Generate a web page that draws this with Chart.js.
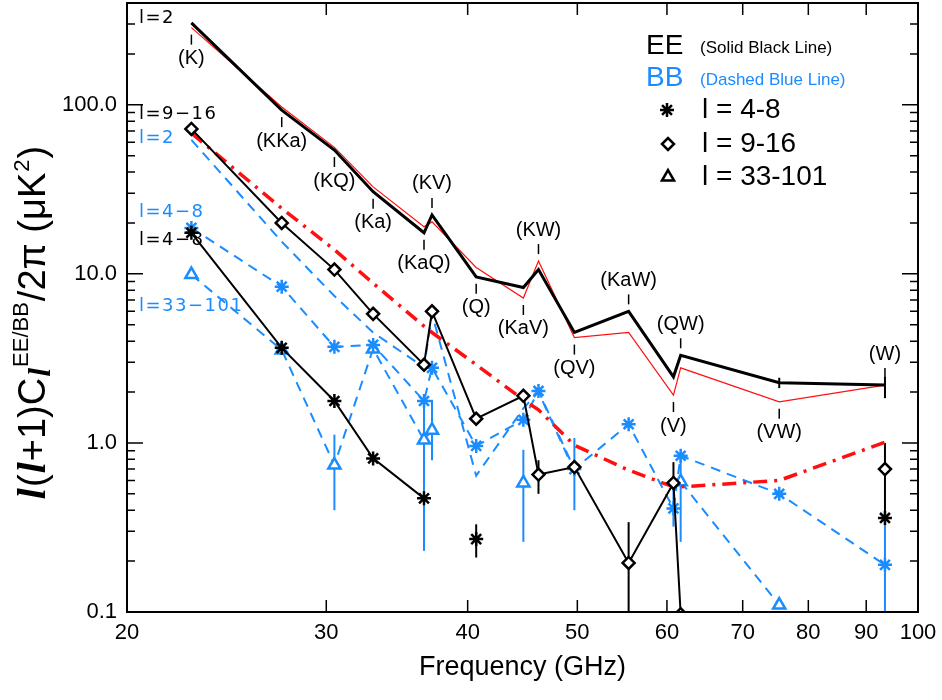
<!DOCTYPE html>
<html>
<head>
<meta charset="utf-8">
<script src="https://cdn.jsdelivr.net/npm/chart.js@4.4.0/dist/chart.umd.min.js"></script>
<style>
  body { margin: 0; background: #fff; }
</style>
</head>
<body>
<canvas id="chart" width="942" height="700"></canvas>
<script>
// band combinations and their effective frequencies (GHz)
const bands = ['K', 'KKa', 'KQ', 'Ka', 'KaQ', 'KV', 'Q', 'KaV', 'KW', 'QV', 'KaW', 'V', 'QW', 'VW', 'W'];
const freqs = [22.8, 27.4, 30.5, 33.0, 36.6, 37.2, 40.7, 44.8, 46.2, 49.7, 55.5, 60.8, 61.7, 75.4, 93.5];
const labelSide = ['below', 'below', 'below', 'below', 'below', 'above', 'below', 'below', 'above', 'below', 'above', 'below', 'above', 'below', 'above'];

// EE (solid)
const eeL2 = [305, 93, 54, 30.6, 17.5, 22.3, 9.6, 8.3, 10.6, 4.5, 6.0, 2.46, 3.3, 2.27, 2.2];
const eeModel = [286, 97, 56, 32.7, 19.0, 20.3, 10.9, 7.2, 11.9, 4.2, 4.5, 1.92, 2.78, 1.75, 2.2];
const ee916 = [72, 20, 10.6, 5.8, 2.9, 6.0, 1.39, 1.9, 0.65, 0.72, 0.195, 0.58, 0.097, null, 0.70];
const ee48 = [17.5, 3.65, 1.77, 0.81, 0.47, null, 0.27, null, null, null, null, null, null, null, 0.36];
// red dash-dot curve
const dustModel = [68, 24.4, 13.9, 8.8, 4.9, 4.5, 2.9, 1.8, 1.57, 0.97, 0.69, 0.55, 0.55, 0.60, 1.01];

// BB (dashed blue)
const bbL2 = [62, 15.5, 7.4, 4.5, 2.8, 5.8, 0.64, 1.6, 2.0, 0.68, null, null, null, null, null];
const bb48 = [18.7, 8.4, 3.7, 3.8, 1.77, 2.78, 0.96, 1.37, 2.03, 0.70, 1.29, 0.41, 0.84, 0.50, 0.19];
const bb33101 = [9.9, 3.55, 0.74, 3.6, 1.04, 1.19, null, 0.58, null, null, null, null, 0.59, 0.11, null];

// error bars: [band index, low, high]
const errBlack = [[6, 0.21, 0.33], [8, 0.50, 0.79], [10, 0.05, 0.34], [11, 0.55, 0.77], [14, 0.36, 1.0], [13, 2.11, 2.43], [14, 1.84, 2.46]];
const errBlue = [[2, 0.40, 1.12], [4, 0.23, 1.84], [5, 0.79, 1.8], [7, 0.26, 0.91], [9, 0.40, 1.07], [11, 0.32, 0.55], [12, 0.26, 0.87], [14, 0.05, 0.36]];

const xTicks = [20, 30, 40, 50, 60, 70, 80, 90, 100];
const yTicks = [0.1, 1, 10, 100];
const yTickLabels = ['0.1', '1.0', '10.0', '100.0'];

const FONT = "'Liberation Sans', Arial, sans-serif";
const BLUE = '#1a8cff';
const RED = '#ff1010';

function pts(arr) {
    return arr.map((v, i) => ({ x: freqs[i], y: v }));
}

// frame, ticks, labels, legend, error bars
const decor = {
    id: 'decor',
    beforeDatasetsDraw(chart) {
        const ctx = chart.ctx, xs = chart.scales.x, ys = chart.scales.y;
        ctx.save();
        ctx.beginPath();
        ctx.rect(chart.chartArea.left, chart.chartArea.top, chart.chartArea.right - chart.chartArea.left, chart.chartArea.bottom - chart.chartArea.top);
        ctx.clip();
        ctx.lineWidth = 2;
        [[errBlack, '#000'], [errBlue, BLUE]].forEach(([list, col]) => {
            ctx.strokeStyle = col;
            list.forEach(([i, lo, hi]) => {
                const px = xs.getPixelForValue(freqs[i]);
                ctx.beginPath();
                ctx.moveTo(px, ys.getPixelForValue(lo));
                ctx.lineTo(px, ys.getPixelForValue(hi));
                ctx.stroke();
            });
        });
        ctx.restore();
    },
    afterDraw(chart) {
        const ctx = chart.ctx, xs = chart.scales.x, ys = chart.scales.y;
        const a = chart.chartArea;
        ctx.save();

        // frame
        ctx.strokeStyle = '#000';
        ctx.lineWidth = 2;
        ctx.strokeRect(a.left, a.top, a.right - a.left, a.bottom - a.top);

        // y ticks (inward, both sides)
        ctx.lineWidth = 1.5;
        [0.1, 1, 10, 100].forEach(d => {
            for (let m = 1; m <= 9; m++) {
                const v = d * m;
                if (v < 0.1 || v > 400) continue;
                const py = ys.getPixelForValue(v);
                const len = m === 1 ? 16 : 8;
                ctx.beginPath();
                ctx.moveTo(a.left, py); ctx.lineTo(a.left + len, py);
                ctx.moveTo(a.right, py); ctx.lineTo(a.right - len, py);
                ctx.stroke();
            }
        });
        // x ticks
        xTicks.slice(1, -1).forEach(v => {
            const px = xs.getPixelForValue(v);
            ctx.beginPath();
            ctx.moveTo(px, a.bottom); ctx.lineTo(px, a.bottom - 12);
            ctx.moveTo(px, a.top); ctx.lineTo(px, a.top + 12);
            ctx.stroke();
        });

        // band labels on the EE l=2 line
        ctx.font = '20px ' + FONT;
        ctx.fillStyle = '#000';
        ctx.textAlign = 'center';
        ctx.textBaseline = 'middle';
        ctx.lineWidth = 1.5;
        bands.forEach((b, i) => {
            const px = xs.getPixelForValue(freqs[i]);
            const p1 = ys.getPixelForValue(eeL2[i]);
            const p2 = ys.getPixelForValue(eeModel[i]);
            let t0, t1, ty;
            if (labelSide[i] === 'below') {
                const base = Math.max(p1, p2);
                t0 = base + 7; t1 = base + 17; ty = base + 31;
            } else {
                const base = Math.min(p1, p2);
                t0 = base - 7; t1 = base - 17; ty = base - 31;
            }
            ctx.beginPath();
            ctx.moveTo(px, t0); ctx.lineTo(px, t1);
            ctx.stroke();
            ctx.fillText('(' + b + ')', px, ty);
        });

        // series labels at left
        ctx.textAlign = 'left';
        ctx.font = "18px 'DejaVu Sans', sans-serif";
        ctx.letterSpacing = '1.5px';
        [['l=2', '#000', 18], ['l=9\u221216', '#000', 114], ['l=2', BLUE, 138], ['l=4\u22128', BLUE, 212], ['l=4\u22128', '#000', 240], ['l=33\u2212101', BLUE, 306]]
            .forEach(([t, c, y]) => {
                ctx.fillStyle = c;
                ctx.fillText(t, 139, y);
            });
        ctx.letterSpacing = '0px';

        // legend
        ctx.font = '28px ' + FONT;
        ctx.fillStyle = '#000';
        ctx.fillText('EE', 646, 46);
        ctx.fillStyle = BLUE;
        ctx.fillText('BB', 646, 78);
        ctx.font = '17px ' + FONT;
        ctx.fillStyle = '#000';
        ctx.fillText('(Solid Black Line)', 700, 48);
        ctx.fillStyle = BLUE;
        ctx.fillText('(Dashed Blue Line)', 700, 80);
        ctx.font = '28px ' + FONT;
        ctx.fillStyle = '#000';
        ctx.fillText('l = 4-8', 702, 110);
        ctx.fillText('l = 9-16', 702, 144);
        ctx.fillText('l = 33-101', 702, 177);
        ctx.strokeStyle = '#000';
        ctx.fillStyle = '#fff';
        ctx.lineWidth = 2.5;
        Chart.helpers.drawPoint(ctx, { pointStyle: 'star', radius: 7, rotation: 0, borderWidth: 2.5 }, 667, 110);
        Chart.helpers.drawPoint(ctx, { pointStyle: 'rectRot', radius: 6, rotation: 0, borderWidth: 2.5 }, 668, 144);
        Chart.helpers.drawPoint(ctx, { pointStyle: 'triangle', radius: 7, rotation: 0, borderWidth: 2.5 }, 668, 177);

        // y axis title
        ctx.translate(45, 322);
        ctx.rotate(-Math.PI / 2);
        ctx.fillStyle = '#000';
        ctx.textAlign = 'left';
        ctx.textBaseline = 'alphabetic';
        const parts = [
            ['l', 'italic bold 40px "Liberation Serif", serif', 0],
            ['(', '38px ' + FONT, 0],
            ['l', 'italic bold 40px "Liberation Serif", serif', 0],
            ['+1)C', '38px ' + FONT, 0],
            ['l', 'italic bold 32px "Liberation Serif", serif', 5],
            ['EE/BB', '22px ' + FONT, -17],
            ['/2\u03c0 (\u03bcK', '38px ' + FONT, 0],
            ['2', '22px ' + FONT, -16],
            [')', '38px ' + FONT, 0]
        ];
        let total = 0;
        parts.forEach(p => { ctx.font = p[1]; total += ctx.measureText(p[0]).width + 1; });
        let cx = -total / 2;
        parts.forEach(p => {
            ctx.font = p[1];
            ctx.fillText(p[0], cx, p[2]);
            cx += ctx.measureText(p[0]).width + 1;
        });
        ctx.restore();
    }
};

new Chart(document.getElementById('chart'), {
    type: 'line',
    data: {
        datasets: [
            { data: pts(eeL2), borderColor: '#000', borderWidth: 3, pointRadius: 0 },
            { data: pts(ee916), borderColor: '#000', borderWidth: 2, pointStyle: 'rectRot', pointRadius: 6,
              pointBorderWidth: 2.5, pointBorderColor: '#000', pointBackgroundColor: '#fff' },
            { data: pts(ee48), borderColor: '#000', borderWidth: 2, pointStyle: 'star', pointRadius: 7,
              pointBorderWidth: 2.5, pointBorderColor: '#000', pointBackgroundColor: '#000' },
            { data: pts(eeModel), borderColor: RED, borderWidth: 1.2, pointRadius: 0 },
            { data: pts(dustModel), borderColor: RED, borderWidth: 3.5, borderDash: [14, 7, 3, 7], pointRadius: 0 },
            { data: pts(bb48), borderColor: BLUE, borderWidth: 2, borderDash: [10, 7], pointStyle: 'star', pointRadius: 7,
              pointBorderWidth: 2.5, pointBorderColor: BLUE, pointBackgroundColor: BLUE },
            { data: pts(bb33101), borderColor: BLUE, borderWidth: 2, borderDash: [10, 7], pointStyle: 'triangle', pointRadius: 7,
              pointBorderWidth: 2.5, pointBorderColor: BLUE, pointBackgroundColor: '#fff' },
            { data: pts(bbL2), borderColor: BLUE, borderWidth: 2, borderDash: [10, 7], pointRadius: 0 }
        ]
    },
    options: {
        responsive: false,
        animation: false,
        devicePixelRatio: 1,
        spanGaps: false,
        layout: { autoPadding: false, padding: { left: 0, top: 3, right: 24, bottom: 0 } },
        plugins: { legend: { display: false }, tooltip: { enabled: false } },
        scales: {
            x: {
                type: 'logarithmic', min: 20, max: 100,
                afterBuildTicks: s => { s.ticks = xTicks.map(v => ({ value: v })); },
                afterFit: s => { s.height = 88; s.paddingLeft = 0; s.paddingRight = 0; },
                grid: { display: false, drawTicks: false },
                border: { display: false },
                ticks: { callback: v => String(v), color: '#000', font: { size: 22, family: FONT },
                         maxRotation: 0, autoSkip: false, padding: 8 },
                title: { display: true, text: 'Frequency (GHz)', color: '#000', font: { size: 27, family: FONT },
                         padding: { top: 0, bottom: 16 } }
            },
            y: {
                type: 'logarithmic', min: 0.1, max: 400,
                afterBuildTicks: s => { s.ticks = yTicks.map(v => ({ value: v })); },
                afterFit: s => { s.width = 127; s.paddingTop = 0; s.paddingBottom = 0; },
                grid: { display: false, drawTicks: false },
                border: { display: false },
                ticks: { callback: (v, i) => yTickLabels[i], color: '#000', font: { size: 22, family: FONT }, padding: 10 }
            }
        }
    },
    plugins: [decor]
});
</script>
</body>
</html>
